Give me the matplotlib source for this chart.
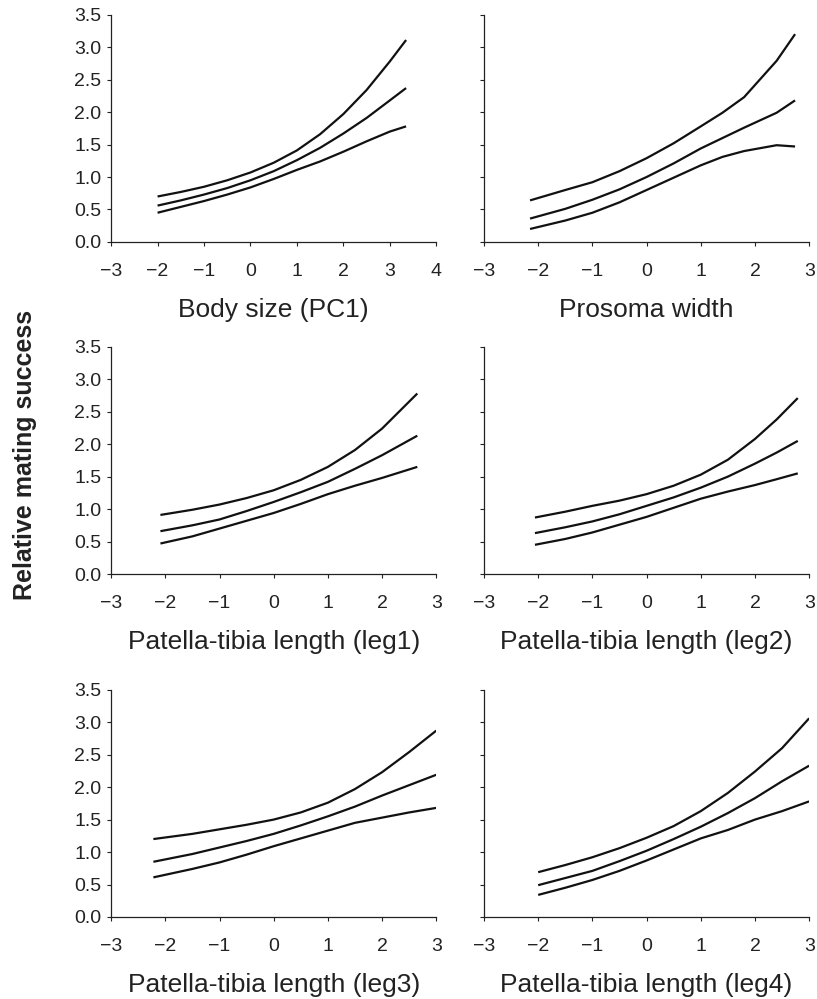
import matplotlib
matplotlib.use('Agg')
import matplotlib.pyplot as plt

plt.rcParams['font.family'] = ['Liberation Sans', 'DejaVu Sans']

# Fitted relative mating success (upper CI, estimate, lower CI) per trait
bs_x = [-2, -1.5, -1, -0.5, 0, 0.5, 1, 1.5, 2, 2.5, 3, 3.35]
bs_hi = [0.70, 0.77, 0.85, 0.95, 1.07, 1.22, 1.41, 1.66, 1.97, 2.34, 2.78, 3.11]
bs_mid = [0.56, 0.64, 0.73, 0.83, 0.95, 1.09, 1.26, 1.45, 1.67, 1.91, 2.18, 2.37]
bs_lo = [0.45, 0.54, 0.63, 0.73, 0.84, 0.97, 1.11, 1.24, 1.39, 1.55, 1.70, 1.78]

pw_x = [-2.15, -1.5, -1, -0.5, 0, 0.5, 1, 1.4, 1.8, 2.4, 2.74]
pw_hi = [0.64, 0.80, 0.92, 1.09, 1.29, 1.52, 1.78, 1.99, 2.23, 2.79, 3.20]
pw_mid = [0.36, 0.51, 0.65, 0.81, 1.00, 1.21, 1.44, 1.60, 1.76, 1.99, 2.18]
pw_lo = [0.20, 0.33, 0.45, 0.61, 0.80, 0.99, 1.18, 1.31, 1.40, 1.49, 1.47]

l1_x = [-2.09, -1.5, -1, -0.5, 0, 0.5, 1, 1.5, 2, 2.65]
l1_hi = [0.91, 0.99, 1.07, 1.17, 1.29, 1.45, 1.65, 1.91, 2.24, 2.78]
l1_mid = [0.66, 0.75, 0.84, 0.97, 1.11, 1.26, 1.42, 1.62, 1.83, 2.13]
l1_lo = [0.47, 0.58, 0.70, 0.82, 0.94, 1.08, 1.23, 1.36, 1.48, 1.65]

l2_x = [-2.06, -1.5, -1, -0.5, 0, 0.5, 1, 1.5, 2, 2.4, 2.79]
l2_hi = [0.87, 0.96, 1.05, 1.13, 1.23, 1.36, 1.53, 1.76, 2.08, 2.38, 2.71]
l2_mid = [0.63, 0.72, 0.81, 0.92, 1.05, 1.18, 1.33, 1.50, 1.70, 1.87, 2.05]
l2_lo = [0.45, 0.54, 0.64, 0.76, 0.88, 1.02, 1.16, 1.27, 1.37, 1.46, 1.55]

l3_x = [-2.22, -1.5, -1, -0.5, 0, 0.5, 1, 1.5, 2, 2.5, 3]
l3_hi = [1.20, 1.28, 1.35, 1.42, 1.50, 1.61, 1.76, 1.97, 2.23, 2.54, 2.87]
l3_mid = [0.85, 0.97, 1.07, 1.17, 1.28, 1.41, 1.55, 1.70, 1.87, 2.03, 2.19]
l3_lo = [0.61, 0.74, 0.84, 0.96, 1.09, 1.21, 1.33, 1.45, 1.53, 1.61, 1.68]

l4_x = [-2, -1.5, -1, -0.5, 0, 0.5, 1, 1.5, 2, 2.5, 3]
l4_hi = [0.69, 0.80, 0.92, 1.06, 1.22, 1.40, 1.63, 1.91, 2.24, 2.60, 3.06]
l4_mid = [0.49, 0.60, 0.71, 0.86, 1.02, 1.20, 1.39, 1.60, 1.83, 2.09, 2.33]
l4_lo = [0.34, 0.45, 0.57, 0.71, 0.87, 1.04, 1.21, 1.34, 1.50, 1.63, 1.78]

labels = ['Body size (PC1)', 'Prosoma width',
          'Patella-tibia length (leg1)', 'Patella-tibia length (leg2)',
          'Patella-tibia length (leg3)', 'Patella-tibia length (leg4)']
yticks = [0.0, 0.5, 1.0, 1.5, 2.0, 2.5, 3.0, 3.5]

panels = [
    (bs_x, bs_hi, bs_mid, bs_lo, 4),
    (pw_x, pw_hi, pw_mid, pw_lo, 3),
    (l1_x, l1_hi, l1_mid, l1_lo, 3),
    (l2_x, l2_hi, l2_mid, l2_lo, 3),
    (l3_x, l3_hi, l3_mid, l3_lo, 3),
    (l4_x, l4_hi, l4_mid, l4_lo, 3),
]

fig = plt.figure(figsize=(8.17, 9.99), dpi=100)

lefts = [0.136, 0.5924]
bottoms = [0.7578, 0.4254, 0.0821]
width, height = 0.398, 0.2275

for i, (x, hi, mid, lo, xmax) in enumerate(panels):
    row, col = divmod(i, 2)
    ax = fig.add_axes([lefts[col], bottoms[row], width, height])
    for y in (hi, mid, lo):
        ax.plot(x, y, color='#111111', linewidth=1.6, solid_capstyle='butt',
                solid_joinstyle='round')

    ax.set_xlim(-3, xmax)
    ax.set_ylim(0, 3.5)
    ax.set_xticks(range(-3, xmax + 1))
    ax.set_xticklabels([str(v).replace('-', '\u2212') for v in range(-3, xmax + 1)])
    ax.set_yticks(yticks)
    if col == 0:
        ax.set_yticklabels([f'{v:.1f}' for v in yticks])
    else:
        ax.set_yticklabels([])

    for side in ('top', 'right'):
        ax.spines[side].set_visible(False)
    for side in ('left', 'bottom'):
        ax.spines[side].set_linewidth(0.9)
        ax.spines[side].set_color('#222222')
    ax.tick_params(axis='both', direction='out', length=3, width=0.8,
                   color='#222222', labelsize=14, labelcolor='#222222')
    ax.tick_params(axis='x', pad=12)
    ax.tick_params(axis='y', pad=4)

    ax.set_xlabel(labels[i], fontsize=19, color='#222222', labelpad=13)

fig.text(0.030, 0.545, 'Relative mating success', rotation=90,
         ha='center', va='center', fontsize=18, fontweight='bold',
         color='#222222')

plt.savefig('out.png', dpi=100)
